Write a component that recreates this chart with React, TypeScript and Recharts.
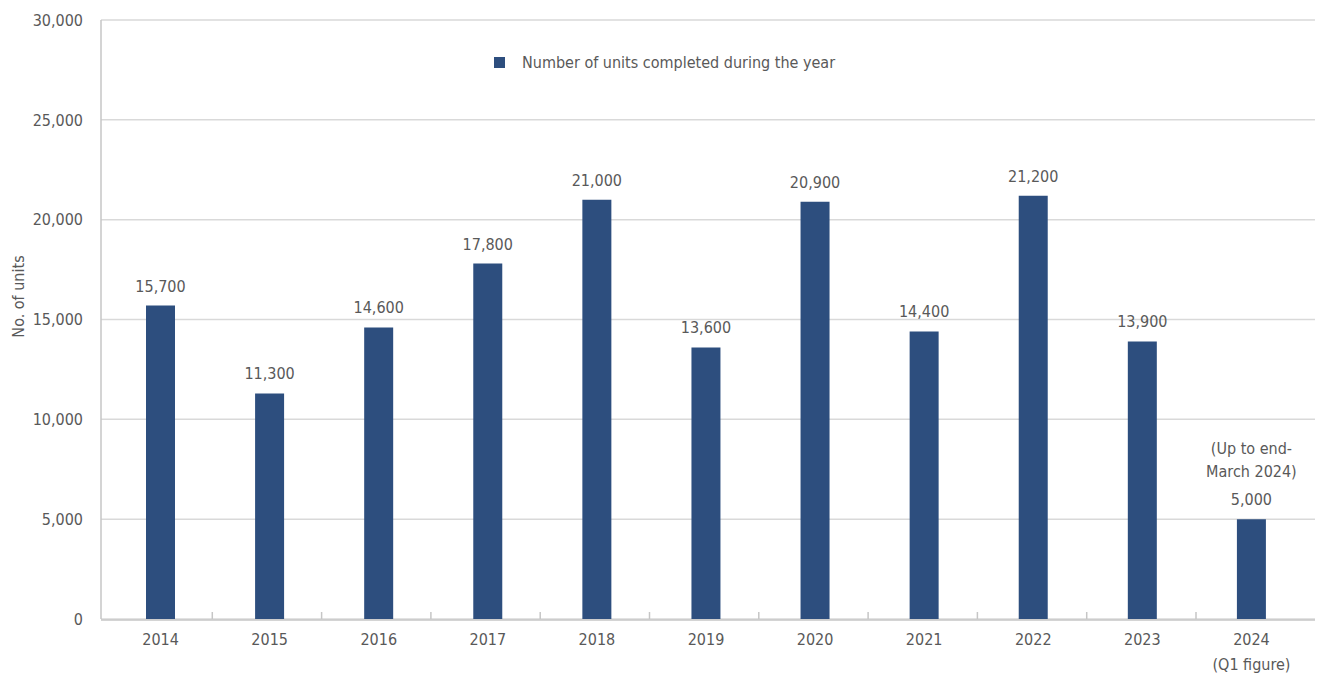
import { BarChart, Bar, XAxis, YAxis, CartesianGrid, LabelList } from 'recharts'

const years = ['2014', '2015', '2016', '2017', '2018', '2019', '2020', '2021', '2022', '2023', '2024']
const subLabels = ['', '', '', '', '', '', '', '', '', '', '(Q1 figure)']
const units = [15700, 11300, 14600, 17800, 21000, 13600, 20900, 14400, 21200, 13900, 5000]
const yTicks = [0, 5000, 10000, 15000, 20000, 25000, 30000]
const notes = ['', '', '', '', '', '', '', '', '', '', '(Up to end-|March 2024)']
// small tick marks between the year categories
const dividers = [1, 2, 3, 4, 5, 6, 7, 8, 9, 10]

const FONT = "'DejaVu Sans Condensed', 'Liberation Sans', sans-serif"
const TEXT = '#595959'
const BAR = '#2d4e7e'
const AXIS = '#c6c6c6'
const FS = 16

const data = years.map((y, i) => ({ year: y, units: units[i] }))

function YearTick(props: any) {
  const { x, y, payload, index } = props
  const sub = subLabels[index]
  return (
    <g transform={`translate(${x},${y})`}>
      <text x={0} y={0} dy={17} textAnchor="middle" fill={TEXT} fontSize={FS} fontFamily={FONT}>
        {payload.value}
      </text>
      {sub && (
        <text x={0} y={0} dy={42} textAnchor="middle" fill={TEXT} fontSize={FS} fontFamily={FONT}>
          {sub}
        </text>
      )}
    </g>
  )
}

function DividerTick(props: any) {
  const { x, y } = props
  return <line x1={x} x2={x} y1={y} y2={y - 7} stroke={AXIS} strokeWidth={1.5} />
}

function ValueLabel(props: any) {
  const { x, y, width, value, index } = props
  const cx = x + width / 2
  const lines = notes[index] ? notes[index].split('|') : []
  return (
    <g>
      {lines.map((l, i) => (
        <text key={i} x={cx} y={y - 13 - 29 - 23 * (lines.length - 1 - i)} textAnchor="middle" fill={TEXT} fontSize={FS} fontFamily={FONT}>
          {l}
        </text>
      ))}
      <text x={cx} y={y - 14} textAnchor="middle" fill={TEXT} fontSize={FS} fontFamily={FONT}>
        {Number(value).toLocaleString('en-US')}
      </text>
    </g>
  )
}

export default function App() {
  return (
    <div style={{ position: 'absolute', left: 0, top: 0, width: 1318, height: 677, background: '#fff' }}>
      <BarChart width={1318} height={677} data={data} margin={{ top: 20, right: 3, left: 0, bottom: 0 }} barCategoryGap={0}>
        <CartesianGrid xAxisId="b" vertical={false} stroke="#d9d9d9" strokeWidth={1.5} />
        <XAxis
          xAxisId="a"
          type="number"
          domain={[0, 10]}
          ticks={dividers}
          padding={{ left: 2, right: 119 }}
          height={1}
          tick={<DividerTick />}
          tickSize={0}
          tickMargin={0}
          tickLine={false}
          axisLine={false}
        />
        <XAxis
          xAxisId="b"
          dataKey="year"
          height={57}
          interval={0}
          padding={{ left: 5, right: 9 }}
          tick={<YearTick />}
          tickLine={false}
          axisLine={{ stroke: AXIS, strokeWidth: 1.5 }}
        />
        <YAxis
          width={101}
          domain={[0, 30000]}
          ticks={yTicks}
          interval={0}
          tickFormatter={(v: number) => v.toLocaleString('en-US')}
          tick={{ fill: TEXT, fontSize: FS, fontFamily: FONT }}
          tickLine={false}
          tickMargin={12}
          axisLine={{ stroke: AXIS, strokeWidth: 1.5 }}
          label={{ value: 'No. of units', angle: -90, position: 'insideLeft', offset: 18, dy: -23, fill: TEXT, fontSize: FS, fontFamily: FONT, style: { textAnchor: 'middle' } }}
        />
        <Bar xAxisId="b" dataKey="units" fill={BAR} barSize={29} isAnimationActive={false}>
          <LabelList dataKey="units" content={<ValueLabel />} />
        </Bar>
      </BarChart>
      <div style={{ position: 'absolute', left: 494, top: 53, display: 'flex', alignItems: 'center', fontFamily: FONT, fontSize: FS, color: TEXT }}>
        <span style={{ width: 11, height: 11, background: BAR, display: 'inline-block', marginRight: 17 }} />
        <span>Number of units completed during the year</span>
      </div>
    </div>
  )
}
